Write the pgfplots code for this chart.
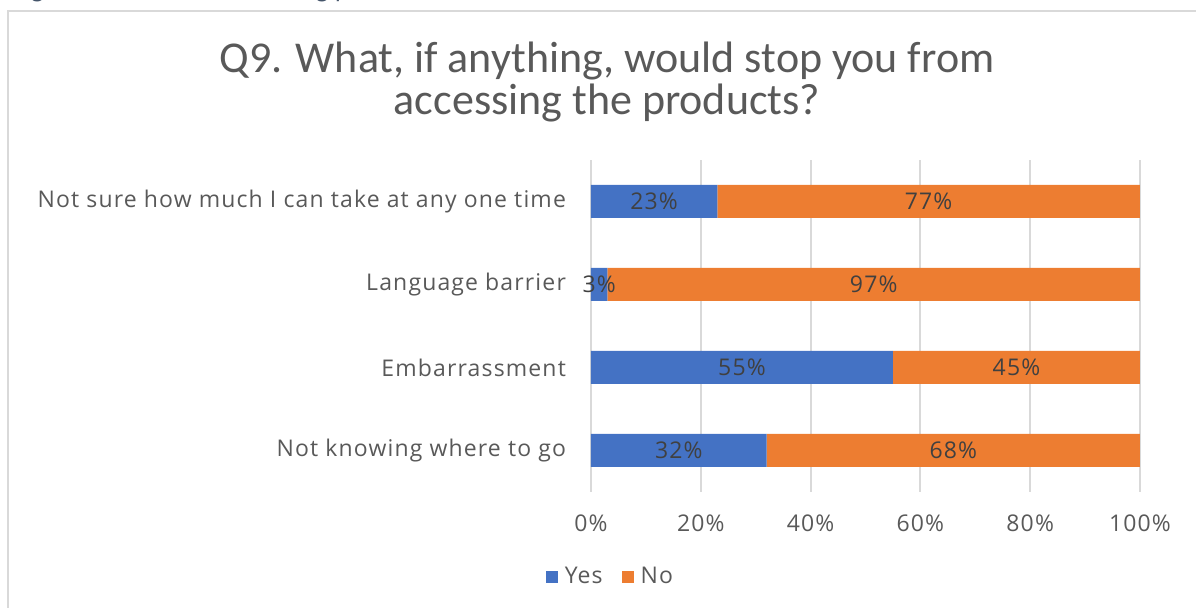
\documentclass[border=0pt]{standalone}
\usepackage{pgfplots}
\pgfplotsset{compat=1.18}
\usepackage{fontspec}
\setmainfont{Open Sans}[LetterSpace=5]
\newfontfamily\titlefont{Carlito}
\definecolor{yesblue}{HTML}{4472C4}
\definecolor{noorange}{HTML}{ED7D31}
\definecolor{gridgray}{HTML}{D9D9D9}
\definecolor{txtgray}{HTML}{595959}
\definecolor{lblgray}{HTML}{404040}
\definecolor{capblue}{HTML}{44546A}

% data: Yes / No shares per answer
\pgfplotstableread{
y yes no yesmid nomid
1 32 68 16   66
2 55 45 27.5 77.5
3 3  97 1.5  51.5
4 23 77 11.5 61.5
}\answers

\pgfplotsset{chartbox/.style={
    at={(295.5pt,58pt)}, anchor=south west,
    scale only axis,
    width=274.5pt, height=166pt,
    xmin=0, xmax=100,
    ymin=0.5, ymax=4.5,
}}

\begin{document}
\begin{tikzpicture}
\path[use as bounding box] (0,0) rectangle (598pt,304pt);
\clip (0,0) rectangle (598pt,304pt);
% caption of the figure, cut off at the top
\node[anchor=base west, inner sep=0, text=capblue, font=\titlefont\itshape\fontsize{13}{15}\selectfont]
  at (7pt,305pt) {Figure 8: Barriers to accessing products};
% chart frame
\draw[gridgray, line width=1pt] (4pt,-2pt) -- (4pt,298.5pt) -- (600pt,298.5pt);
% title
\node[anchor=base, inner sep=0, text=txtgray, font=\titlefont\fontsize{22}{26}\selectfont]
  at (303.5pt,267.5pt) {Q9. What, if anything, would stop you from};
\node[anchor=base, inner sep=0, text=txtgray, font=\titlefont\fontsize{22}{26}\selectfont]
  at (303.5pt,246.5pt) {accessing the products?};
\begin{axis}[
    chartbox,
    xbar stacked,
    bar width=16.5pt,
    xtick={0,20,40,60,80,100},
    xticklabels={0\%,20\%,40\%,60\%,80\%,100\%},
    ytick={1,2,3,4},
    yticklabels={Not knowing where to go, Embarrassment, Language barrier, Not sure how much I can take at any one time},
    xmajorgrids,
    grid style={gridgray, line width=1pt},
    axis line style={draw=none},
    major tick length=0pt,
    tick label style={text=txtgray, font=\fontsize{11.5}{13}\selectfont},
    xticklabel style={yshift=-8pt},
    yticklabel style={xshift=-9pt},
    legend style={at={(0.04,-0.256)}, anchor=center, draw=none, fill=none,
      legend columns=2, font=\fontsize{11.5}{13}\selectfont, text=txtgray,
      nodes={inner xsep=3.5pt},
      /tikz/every even column/.append style={column sep=6pt}},
    legend image code/.code={\fill[#1] (0pt,-3pt) rectangle (6pt,3pt);},
]
\addplot[fill=yesblue, draw=none] table[x=yes, y=y] {\answers};
\addlegendentry{Yes}
\addplot[fill=noorange, draw=none] table[x=no, y=y] {\answers};
\addlegendentry{No}
\end{axis}
% value labels, centred in each segment
\begin{axis}[
    chartbox,
    axis lines=none,
    nodes near coords={\pgfmathprintnumber{\pgfplotspointmeta}\%},
    every node near coord/.append style={anchor=center, text=lblgray,
      font=\fontsize{11.5}{13}\selectfont},
    /pgf/number format/assume math mode=true,
]
\addplot[draw=none, mark=none, point meta=\thisrow{yes}]
  table[x=yesmid, y=y] {\answers};
\addplot[draw=none, mark=none, point meta=\thisrow{no}]
  table[x=nomid, y=y] {\answers};
\end{axis}
\end{tikzpicture}
\end{document}
